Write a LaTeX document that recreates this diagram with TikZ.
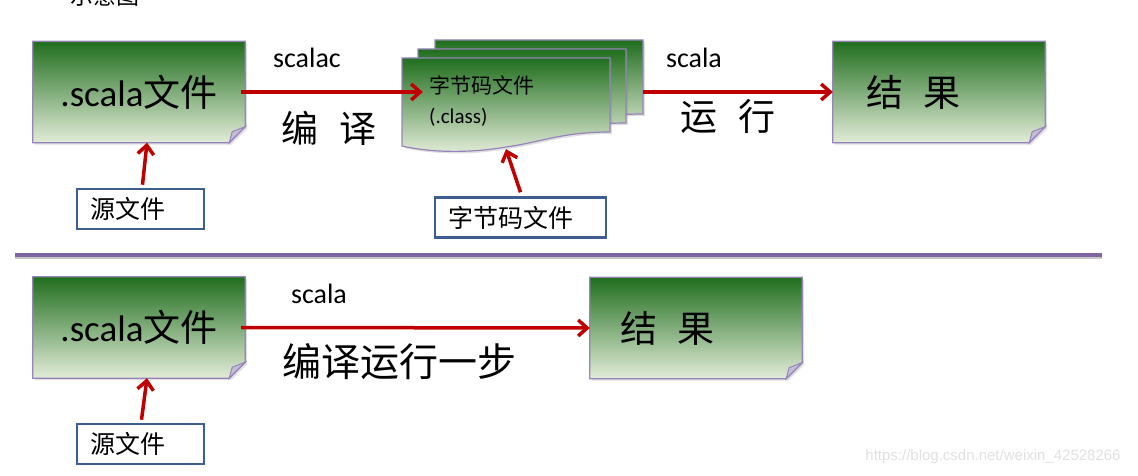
\documentclass[tikz,border=0pt]{standalone}
\usepackage{fontspec}
\setmainfont{Carlito}
\newfontfamily\cjk{Noto Sans CJK SC}
\newfontfamily\urlfont{Liberation Sans}
\usetikzlibrary{arrows.meta,shadows,backgrounds}

\definecolor{ntop}{RGB}{32,110,30}
\definecolor{nmid}{RGB}{158,188,112}
\definecolor{nbot}{RGB}{226,236,216}
\definecolor{notebrd}{RGB}{150,132,186}
\definecolor{foldfill}{RGB}{196,190,212}
\definecolor{arrowred}{RGB}{192,0,0}
\definecolor{tagbrd}{RGB}{61,95,143}
\definecolor{sepcol}{RGB}{128,100,162}

% sticky note with a folded corner behind a node
\newcommand{\dogear}[1]{%
  \path[notefill] (#1.north west) -- (#1.north east) -- ([yshift=16pt]#1.south east)
    -- ([xshift=-16pt]#1.south east) -- (#1.south west) -- cycle;
  \draw[notefold] ([xshift=-16pt]#1.south east) -- ([xshift=-13pt,yshift=11pt]#1.south east)
    .. controls ([xshift=-6pt,yshift=14pt]#1.south east) .. ([yshift=16pt]#1.south east) -- cycle;
}
% document with a wavy bottom, given by its top left corner
\newcommand{\wavedoc}[1]{%
  \path[notefill, shift={#1}] (0,0) -- (208,0) -- (208,74)
    .. controls (160,74) and (140,84) .. (104,89)
    .. controls (70,95) and (30,95) .. (0,88) -- cycle;
}

\begin{document}
\begin{tikzpicture}[
  x=1pt, y=-1pt,
  box/.style={minimum width=212pt, minimum height=101pt, inner sep=0pt, font=\fontsize{37}{37}\selectfont},
  tag/.style={draw=tagbrd, line width=2.5pt, fill=white, inner ysep=0pt, inner xsep=13pt, minimum height=40pt, align=left, font=\cjk\fontsize{25}{25}\selectfont},
  cmdlabel/.style={font=\fontsize{28}{28}\selectfont},
  steplabel/.style={font=\cjk\fontsize{37}{37}\selectfont},
  notefill/.style={draw=notebrd, line width=1.2pt, top color=ntop, middle color=nmid, bottom color=nbot,
    drop shadow={opacity=0.25, shadow xshift=2pt, shadow yshift=-2pt}},
  notefold/.style={draw=notebrd, line width=1pt, fill=foldfill},
  arrow/.style={-{Straight Barb[length=9pt,width=16pt]}, line width=3.5pt, draw=arrowred},
  sepline/.style={line width=4pt, draw=sepcol}
]
\useasboundingbox (0,0) rectangle (1138,476);

\node[font=\cjk\fontsize{23}{23}\selectfont, anchor=base] (title) at (105,5) {示意图};

% Byte code documents
\wavedoc{(435,40)}
\wavedoc{(418,49)}
\wavedoc{(402,58)}

% Nodes
\node[box] (scalaA) at (139,92) {.scala{\cjk 文件}};
\node[minimum width=208pt, minimum height=68pt, inner sep=0pt] (cls) at (506,92) {};
\node[anchor=west, font=\cjk\fontsize{21}{21}\selectfont, inner sep=0pt] (clsname) at (429,85) {字节码文件};
\node[anchor=west, font=\fontsize{21}{21}\selectfont, inner sep=0pt] (clsext) at (429,117) {(.class)};
\node[box, text width=146pt, align=left] (resA) at (939,92) {\cjk 结\hspace{0.55em}果};
\node[tag, text width=101pt] (srcA) at (140.5,209) {源文件};
\node[tag, text width=145pt] (clsnote) at (520.5,217.5) {字节码文件};

\node[box] (scalaB) at (139,327.5) {.scala{\cjk 文件}};
\node[box, text width=152pt, align=left] (resB) at (696,328) {\cjk 结\hspace{0.55em}果};
\node[tag, text width=101pt] (srcB) at (140.5,444) {源文件};

\begin{scope}[on background layer]
  \dogear{scalaA}
  \dogear{resA}
  \dogear{scalaB}
  \dogear{resB}
\end{scope}

% Labels
\node[cmdlabel] (lblscalac) at (307,58) {scalac};
\node[steplabel] (lblcompile) at (329,128) {编\hspace{0.55em}译};
\node[cmdlabel] (lblscalaA) at (694,58) {scala};
\node[steplabel] (lblrun) at (728,116) {运\hspace{0.55em}行};
\node[cmdlabel] (lblscalaB) at (319,294) {scala};
\node[steplabel, font=\cjk\fontsize{39}{39}\selectfont] (lblonestep) at (399,362) {编译运行一步};

% Arrows
\draw[arrow] ([xshift=-4pt]scalaA.east) -- ([xshift=21pt]cls.west);
\draw[arrow] ([xshift=33pt]cls.east) -- (resA.west);
\draw[arrow] ([xshift=2pt,yshift=3pt]srcA.north) -- ([xshift=8pt]scalaA.south);
\draw[arrow] ([yshift=4pt]clsnote.north) -- ([yshift=-23pt]cls.south);
\draw[arrow] ([xshift=-4pt]scalaB.east) -- (resB.west);
\draw[arrow] ([xshift=1pt,yshift=3pt]srcB.north) -- ([xshift=8pt]scalaB.south);

% Separator
\coordinate (sepL) at (15,255);
\coordinate (sepR) at (1102,255);
\draw[line width=3pt, black!22] ([yshift=-2.5pt]sepL) -- ([yshift=-2.5pt]sepR);
\draw[sepline] (sepL) -- (sepR);

\node[font=\urlfont\fontsize{15}{15}\selectfont, text=black!12] (wmark) at (993,457) {https://blog.csdn.net/weixin\_42528266};

\end{tikzpicture}
\end{document}
